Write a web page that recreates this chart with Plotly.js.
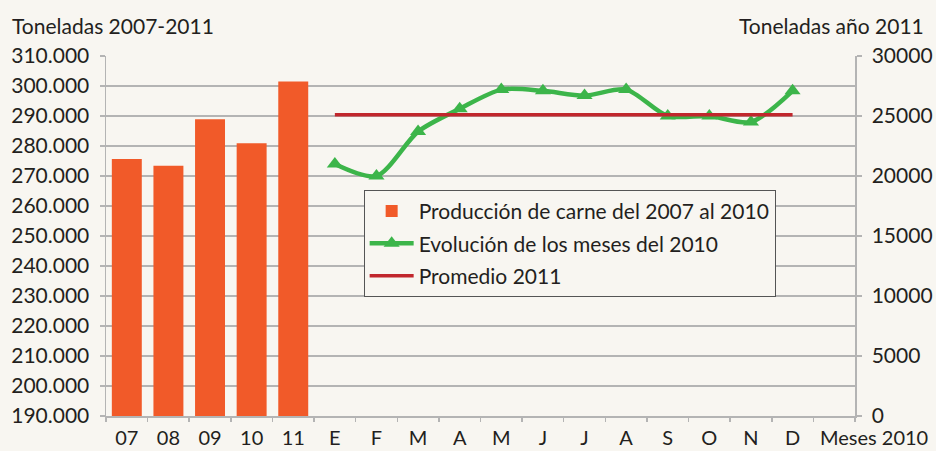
<!DOCTYPE html>
<html><head><meta charset="utf-8">
<script src="https://cdn.plot.ly/plotly-3.0.1.min.js"></script>
<style>html,body{margin:0;padding:0;background:#f8f6f1;}#chart{width:936px;height:451px;}</style>
</head><body><div id="chart"></div>
<script>
// Data
const barLabels = ['07','08','09','10','11'];
const barValues = [275700, 273400, 288900, 280900, 301500];
const monthLabels = ['E','F','M','A','M','J','J','A','S','O','N','D'];
const monthValues = [21000, 20000, 23700, 25600, 27200, 27100, 26700, 27200, 25000, 25000, 24500, 27100];
const promedioValues = [25100,25100,25100,25100,25100,25100,25100,25100,25100,25100,25100,25100];
const extraLabel = 'Meses 2010';

const allLabels = barLabels.concat(monthLabels).concat(['']);
const barX = barLabels.map((_, i) => i);
const monthX = monthLabels.map((_, i) => i + barLabels.length);
const nCat = allLabels.length;

const FONT = 'Lato';
const FS = 21;
const XFS = 20;
const TXT = '#231f20';
const GRID = '#b4b4b4';

const traces = [
  {type:'bar', x:barX, y:barValues, name:'Producción de carne del 2007 al 2010',
   legendgroup:'a', marker:{color:'#f15a29'}, width:0.72, xaxis:'x', yaxis:'y'},
  {type:'scatter', mode:'lines+markers', x:monthX, y:monthValues, name:'Evolución de los meses del 2010',
   legendgroup:'b', line:{color:'#3cb54a', width:4.5, shape:'spline', smoothing:0.8},
   marker:{symbol:'triangle-up', size:14, color:'#3cb54a'}, xaxis:'x', yaxis:'y2'},
  {type:'scatter', mode:'lines', x:monthX, y:promedioValues, name:'Promedio 2011',
   legendgroup:'c', line:{color:'#c1272d', width:3.5}, xaxis:'x', yaxis:'y2'},
  {type:'scatter', mode:'markers', x:[-0.5], y:[0], showlegend:false, hoverinfo:'skip',
   marker:{opacity:0}, xaxis:'x2', yaxis:'y2'}
];

const tickVals = allLabels.map((_, i) => i);
const boundaryVals = [];
for (let i = 0; i <= nCat; i++) boundaryVals.push(i - 0.5);

const layout = {
  width:936, height:451,
  paper_bgcolor:'#f8f6f1', plot_bgcolor:'#f8f6f1',
  margin:{l:106, r:81, t:56, b:35},
  separators:',.',
  font:{family:FONT, size:FS, color:TXT},
  showlegend:true,
  legend:{x:0.344, y:0.628, xanchor:'left', yanchor:'top',
    bgcolor:'#f8f6f1', bordercolor:'#555555', borderwidth:1, traceorder:'grouped',
    font:{family:FONT, size:FS, color:TXT}, tracegroupgap:2, itemwidth:44,
    entrywidth:400, entrywidthmode:'pixels'},
  bargap:0.28,
  xaxis:{range:[-0.5, nCat-0.5], tickmode:'array', tickvals:tickVals, ticktext:allLabels,
    ticks:'', showline:true, linecolor:GRID, linewidth:1.5, showgrid:false, zeroline:false,
    tickfont:{family:FONT, size:XFS, color:TXT}, ticklabelstandoff:3},
  xaxis2:{overlaying:'x', anchor:'y', side:'bottom', range:[-0.5, nCat-0.5], tickmode:'array',
    tickvals:boundaryVals, showticklabels:false, ticks:'outside', ticklen:5, tickcolor:GRID,
    tickwidth:1.5, showgrid:false, zeroline:false, showline:false},
  yaxis:{range:[190000, 310000], dtick:10000, tick0:190000, tickformat:',d',
    showgrid:true, gridcolor:GRID, gridwidth:1.5, zeroline:false,
    showline:true, linecolor:GRID, linewidth:1.5, ticks:'outside', ticklen:5, tickcolor:GRID,
    tickwidth:1.5, tickfont:{family:FONT, size:FS, color:TXT}, ticklabelstandoff:6},
  yaxis2:{range:[0, 30000], dtick:5000, tick0:0, tickformat:'d', overlaying:'y', side:'right',
    showgrid:false, zeroline:false, showline:true, linecolor:GRID, linewidth:1.5,
    ticks:'outside', ticklen:5, tickcolor:GRID, tickwidth:1.5,
    tickfont:{family:FONT, size:FS, color:TXT}, ticklabelstandoff:6},
  annotations:[
    {text:'Toneladas 2007-2011', xref:'paper', yref:'paper', x:-0.128, y:1.0, xanchor:'left', yanchor:'bottom',
     yshift:16, showarrow:false, font:{family:FONT, size:FS, color:TXT}},
    {text:'Toneladas año 2011', xref:'paper', yref:'paper', x:1.095, y:1.0, xanchor:'right', yanchor:'bottom',
     yshift:16, showarrow:false, font:{family:FONT, size:FS, color:TXT}},
    {text:extraLabel, xref:'x', yref:'paper', x:nCat-1.4, y:0, xanchor:'left', yanchor:'top',
     yshift:-7, showarrow:false, font:{family:FONT, size:XFS, color:TXT}}
  ]
};

Plotly.newPlot('chart', traces, layout, {displayModeBar:false, staticPlot:true});
</script></body></html>
